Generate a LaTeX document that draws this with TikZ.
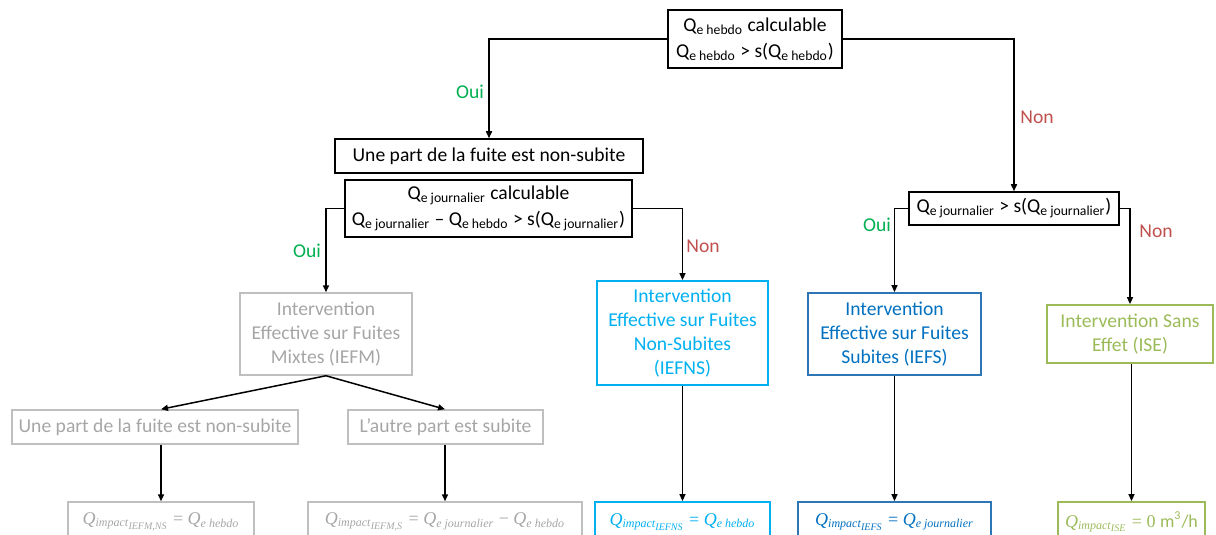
\documentclass[tikz,border=0pt]{standalone}
\usepackage{fontspec}
\setmainfont{Carlito}
\newfontfamily\eqfont{Liberation Serif}
\usetikzlibrary{arrows.meta}

\definecolor{ouigreen}{HTML}{00B050}
\definecolor{nonred}{HTML}{C0504D}
\definecolor{mixline}{HTML}{BFBFBF}
\definecolor{mixtext}{HTML}{A6A6A6}
\definecolor{nscyan}{HTML}{00B0F0}
\definecolor{stext}{HTML}{0070C0}
\definecolor{sline}{HTML}{2E75B6}
\definecolor{isegreen}{HTML}{9BBB59}

% debit e avec indice
\newcommand{\Qe}[1]{Q\textsubscript{e #1}}
% memes debits, en italique pour les formules
\newcommand{\Qimp}[1]{\textit{Q}\textsubscript{\textit{impact}\textsubscript{\textit{#1}}}}
\newcommand{\Qei}[1]{\textit{Q}\textsubscript{\textit{e #1}}}

\begin{document}
\begin{tikzpicture}[x=0.5pt,y=-0.5pt,
  font=\fontsize{9.8}{12}\selectfont,
  box/.style={draw,line width=0.75pt,align=center,inner sep=0pt},
  mixbox/.style={box,draw=mixline,text=mixtext},
  nsbox/.style={box,draw=nscyan,text=nscyan,line width=0.9pt},
  sbox/.style={box,draw=sline,text=stext,line width=0.9pt},
  isebox/.style={box,draw=isegreen,text=isegreen,line width=0.9pt},
  eq/.style={font=\eqfont\fontsize{9}{11}\selectfont},
  arr/.style={-{Triangle[length=3.5pt,width=3pt]},line width=0.75pt},
  oui/.style={text=ouigreen},
  non/.style={text=nonred}
]
\clip (0,0) rectangle (1216,535);

% tests
\node[box,minimum width=87pt,minimum height=29pt] (hebdo) at (755,39)
  {\Qe{hebdo} calculable\\[1pt]\Qe{hebdo} > s(\Qe{hebdo})};
\node[box,minimum width=154pt,minimum height=17pt] (part1) at (489,156)
  {Une part de la fuite est non-subite};
\node[box,minimum width=143.5pt,minimum height=28.5pt] (jour) at (488.5,208.5)
  {\Qe{journalier} calculable\\[1pt]\Qe{journalier} -- \Qe{hebdo} > s(\Qe{journalier})};
\node[box,minimum width=105pt,minimum height=16.5pt] (jourS) at (1014,208.5)
  {\Qe{journalier} > s(\Qe{journalier})};

% interventions
\node[mixbox,minimum width=86pt,minimum height=41pt] (iefm) at (326,334)
  {Intervention\\Effective sur Fuites\\Mixtes (IEFM)};
\node[nsbox,minimum width=85.5pt,minimum height=52pt] (iefns) at (682.5,333)
  {Intervention\\Effective sur Fuites\\Non-Subites\\(IEFNS)};
\node[sbox,minimum width=86.5pt,minimum height=41pt] (iefs) at (894.5,334)
  {Intervention\\Effective sur Fuites\\Subites (IEFS)};
\node[isebox,minimum width=83pt,minimum height=29pt] (ise) at (1130,334)
  {Intervention Sans\\Effet (ISE)};

\node[mixbox,minimum width=143pt,minimum height=17pt] (nsA) at (155,427)
  {Une part de la fuite est non-subite};
\node[mixbox,minimum width=97.5pt,minimum height=17pt] (sB) at (445.5,427)
  {L’autre part est subite};

% debits d'impact
\node[mixbox,eq,minimum width=93pt,minimum height=20pt] (ensA) at (161,522)
  {\Qimp{IEFM,NS} = \Qei{hebdo}};
\node[mixbox,eq,minimum width=137pt,minimum height=20pt] (ensB) at (445,522)
  {\Qimp{IEFM,S} = \Qei{journalier} − \Qei{hebdo}};
\node[nsbox,eq,minimum width=87.5pt,minimum height=20pt] (enns) at (682.5,522)
  {\Qimp{IEFNS} = \Qei{hebdo}};
\node[sbox,eq,minimum width=96.5pt,minimum height=20pt] (efs) at (894.5,522)
  {\Qimp{IEFS} = \Qei{journalier}};
\node[isebox,eq,minimum width=73.5pt,minimum height=20pt] (eise) at (1131.5,522)
  {\Qimp{ISE} = 0 {\normalfont\fontsize{9}{11}\selectfont m\textsuperscript{3}/h}};

% fleches
\draw[arr] (hebdo.west) -| (part1.north);
\draw[arr] (hebdo.east) -| (jourS.north);
\draw[arr] (jour.west) -| (iefm.north);
\draw[arr] (jour.east) -| (iefns.north);
\draw[arr] (jourS.west) -| (iefs.north);
\draw[arr] (jourS.east) -| (ise.north);
\draw[arr] (iefm.south) -- (ensA.north |- nsA.north);
\draw[arr] (iefm.south) -- (ensB.north |- sB.north);
\draw[arr] (ensA.north |- nsA.south) -- (ensA.north);
\draw[arr] (ensB.north |- sB.south) -- (ensB.north);
\draw[arr] (iefns.south) -- (enns.north);
\draw[arr] (iefs.south) -- (efs.north);
\draw[arr] (eise.north |- ise.south) -- (eise.north);

% reponses
\node[oui] (ouiA) at (470,92) {Oui};
\node[non] (nonA) at (1037,117) {Non};
\node[oui] (ouiB) at (307,251) {Oui};
\node[non] (nonB) at (703,246) {Non};
\node[oui] (ouiC) at (877,225) {Oui};
\node[non] (nonC) at (1156,231) {Non};
\end{tikzpicture}
\end{document}
